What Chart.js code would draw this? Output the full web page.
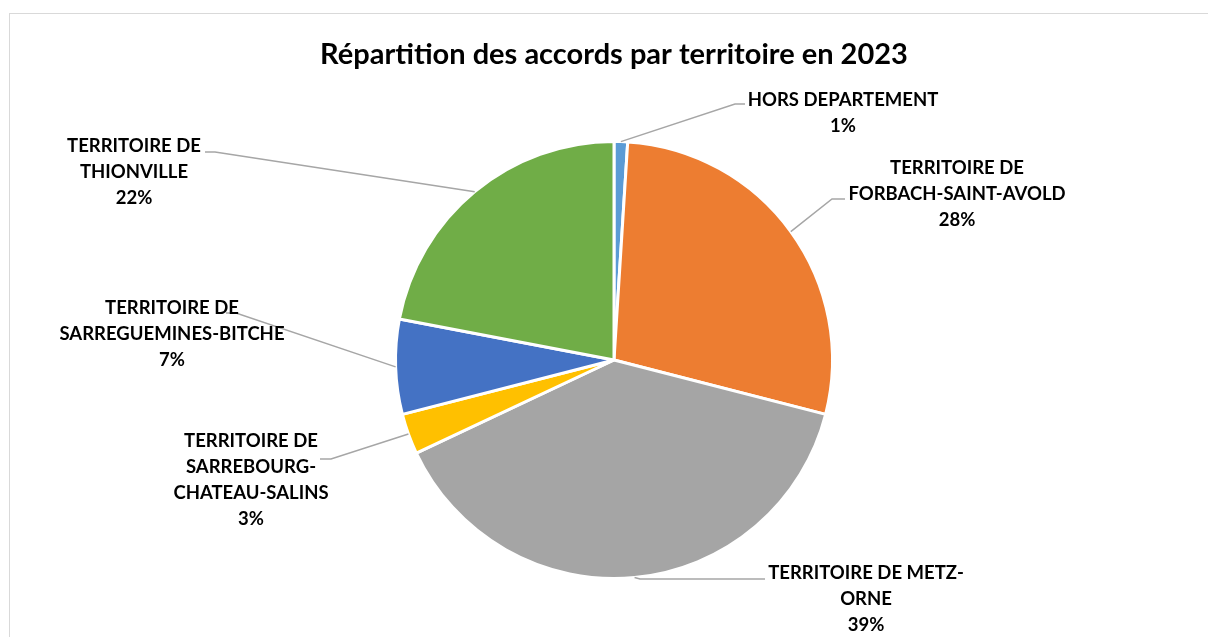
<!DOCTYPE html>
<html>
<head>
<meta charset="utf-8">
<script src="https://cdn.jsdelivr.net/npm/chart.js@4"></script>
<style>
  html, body { margin: 0; padding: 0; background: #fff; }
  #wrap { width: 1208px; height: 637px; position: relative; }
</style>
</head>
<body>
<div id="wrap"><canvas id="pieChart" width="1208" height="637"></canvas></div>
<script>
const labels = [
  ["HORS DEPARTEMENT"],
  ["TERRITOIRE DE", "FORBACH-SAINT-AVOLD"],
  ["TERRITOIRE DE METZ-", "ORNE"],
  ["TERRITOIRE DE", "SARREBOURG-", "CHATEAU-SALINS"],
  ["TERRITOIRE DE", "SARREGUEMINES-BITCHE"],
  ["TERRITOIRE DE", "THIONVILLE"]
];
const values = [1, 28, 39, 3, 7, 22];
const colors = ["#5b9bd5", "#ed7d31", "#a5a5a5", "#ffc000", "#4472c4", "#70ad47"];

// where each label goes: text centre x, first line y, elbow of the leader, end of the leader
const labelPos = [
  { x: 843, y: 100, elbow: [735, 104], end: [745, 104] },
  { x: 957, y: 168, elbow: [832, 199], end: [845, 199] },
  { x: 866, y: 573, elbow: [640, 579], end: [765, 579] },
  { x: 251, y: 441, elbow: [331, 459], end: [320, 459] },
  { x: 172, y: 308, elbow: [236, 313], end: [226, 313] },
  { x: 134, y: 146, elbow: [215, 152], end: [205, 152] }
];

const total = values.reduce((a, b) => a + b, 0);

const labelPlugin = {
  id: "pieLabels",
  afterDraw(chart) {
    const ctx = chart.ctx;
    ctx.save();
    // frame
    ctx.strokeStyle = "#d9d9d9";
    ctx.lineWidth = 1;
    ctx.strokeRect(9.5, 13.5, 1300, 700);

    // title
    ctx.fillStyle = "#000";
    ctx.font = "bold 29px Lato, sans-serif";
    ctx.textAlign = "center";
    ctx.textBaseline = "middle";
    ctx.fillText("Répartition des accords par territoire en 2023", 614, 55);

    const meta = chart.getDatasetMeta(0);
    meta.data.forEach((arc, i) => {
      const p = labelPos[i];
      const mid = (arc.startAngle + arc.endAngle) / 2;
      const sx = arc.x + Math.cos(mid) * arc.outerRadius;
      const sy = arc.y + Math.sin(mid) * arc.outerRadius;
      ctx.strokeStyle = "#a6a6a6";
      ctx.lineWidth = 1.5;
      ctx.beginPath();
      ctx.moveTo(sx, sy);
      ctx.lineTo(p.elbow[0], p.elbow[1]);
      ctx.lineTo(p.end[0], p.end[1]);
      ctx.stroke();

      ctx.fillStyle = "#000";
      ctx.font = "bold 18.5px Lato, sans-serif";
      const lines = labels[i].concat([Math.round(values[i] / total * 100) + "%"]);
      lines.forEach((t, k) => ctx.fillText(t, p.x, p.y + k * 26));
    });
    ctx.restore();
  }
};

new Chart(document.getElementById("pieChart"), {
  type: "pie",
  data: {
    labels: labels.map(l => l.join(" ")),
    datasets: [{
      data: values,
      backgroundColor: colors,
      borderColor: "#ffffff",
      borderWidth: 3
    }]
  },
  options: {
    responsive: false,
    animation: false,
    layout: { padding: { top: 140, bottom: 57, left: 176, right: 156 } },
    plugins: {
      legend: { display: false },
      tooltip: { enabled: false }
    }
  },
  plugins: [labelPlugin]
});
</script>
</body>
</html>
